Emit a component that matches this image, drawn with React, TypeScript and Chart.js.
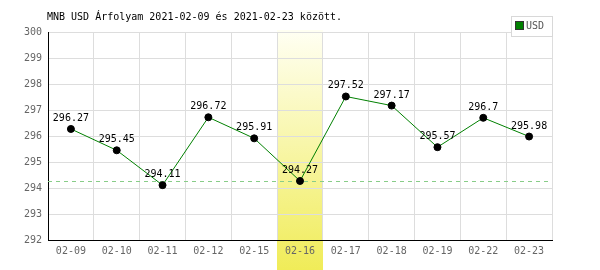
import React, { useEffect, useRef } from 'react';
import { Chart, registerables } from 'chart.js';

Chart.register(...registerables);

const categories = ['02-09', '02-10', '02-11', '02-12', '02-15', '02-16', '02-17', '02-18', '02-19', '02-22', '02-23'];
const usdValues = [296.27, 295.45, 294.11, 296.72, 295.91, 294.27, 297.52, 297.17, 295.57, 296.7, 295.98];
const referenceValue = 294.27;
const highlightIndex = 5;
const yMin = 292;
const yMax = 300;
const titleText = 'MNB USD Árfolyam 2021-02-09 és 2021-02-23 között.';
const seriesName = 'USD';

const MONO = '"DejaVu Sans Mono", "Liberation Mono", monospace';

const highlightPlugin = {
  id: 'highlightBand',
  beforeDraw(chart: any) {
    const { ctx, chartArea } = chart;
    const xs = chart.scales.x;
    const cx = xs.getPixelForValue(highlightIndex);
    const half = (xs.getPixelForValue(1) - xs.getPixelForValue(0)) / 2;
    const g = ctx.createLinearGradient(0, chartArea.top, 0, chart.height);
    g.addColorStop(0, '#fffff2');
    g.addColorStop(1, '#f0ec58');
    ctx.save();
    ctx.fillStyle = g;
    ctx.fillRect(Math.round(cx - half), chartArea.top - 2, Math.round(2 * half), chart.height - chartArea.top + 2);
    ctx.restore();
  },
};

const refLinePlugin = {
  id: 'refLine',
  beforeDatasetsDraw(chart: any) {
    const { ctx, chartArea } = chart;
    const y = Math.round(chart.scales.y.getPixelForValue(referenceValue)) + 0.5;
    ctx.save();
    ctx.strokeStyle = '#88cc88';
    ctx.lineWidth = 1;
    ctx.setLineDash([4, 4]);
    ctx.beginPath();
    ctx.moveTo(chartArea.left, y);
    ctx.lineTo(chartArea.right, y);
    ctx.stroke();
    ctx.restore();
  },
};

const labelPlugin = {
  id: 'valueLabels',
  afterDatasetsDraw(chart: any) {
    const { ctx } = chart;
    const meta = chart.getDatasetMeta(0);
    ctx.save();
    ctx.font = '10px ' + MONO;
    ctx.fillStyle = '#000';
    ctx.textAlign = 'center';
    ctx.textBaseline = 'alphabetic';
    meta.data.forEach((pt: any, i: number) => {
      ctx.fillText(String(usdValues[i]), pt.x, pt.y - 8);
    });
    ctx.restore();
  },
};

const titleLegendPlugin = {
  id: 'titleLegend',
  afterDraw(chart: any) {
    const { ctx } = chart;
    ctx.save();
    ctx.font = '10px ' + MONO;
    ctx.fillStyle = '#000';
    ctx.textAlign = 'left';
    ctx.textBaseline = 'middle';
    ctx.fillText(titleText, 47, 17);
    // legend box
    ctx.fillStyle = '#fff';
    ctx.fillRect(511, 16, 41, 20);
    ctx.strokeStyle = '#d8d8d8';
    ctx.lineWidth = 1;
    ctx.strokeRect(511.5, 16.5, 41, 20);
    ctx.fillStyle = '#008000';
    ctx.fillRect(516, 22, 7, 7);
    ctx.strokeStyle = '#333';
    ctx.strokeRect(515.5, 21.5, 8, 8);
    ctx.fillStyle = '#555';
    ctx.font = '10px ' + MONO;
    ctx.fillText(seriesName, 526, 26);
    ctx.restore();
  },
};

export default function App() {
  const ref = useRef<HTMLCanvasElement | null>(null);
  useEffect(() => {
    if (!ref.current) return;
    const chart = new Chart(ref.current, {
      type: 'line',
      data: {
        labels: categories,
        datasets: [
          {
            label: seriesName,
            data: usdValues,
            borderColor: '#008000',
            borderWidth: 1,
            pointBackgroundColor: '#000',
            pointBorderColor: '#000',
            pointRadius: 3.5,
            tension: 0,
            fill: false,
          },
        ],
      },
      options: {
        responsive: false,
        animation: false,
        layout: { padding: { top: 32, left: 0, right: 48, bottom: 0 } },
        plugins: { legend: { display: false }, title: { display: false }, tooltip: { enabled: false } },
        scales: {
          x: {
            type: 'category',
            offset: true,
            afterFit: (s: any) => { s.height = 30; },
            grid: { offset: true, color: '#dddddd', drawTicks: false, lineWidth: 1 },
            border: { color: '#000', width: 1 },
            ticks: { color: '#666', font: { family: MONO, size: 10 }, padding: 5, autoSkip: false, maxRotation: 0 },
          },
          y: {
            min: yMin,
            max: yMax,
            afterFit: (s: any) => { s.width = 48; },
            grid: { color: '#dddddd', drawTicks: false, lineWidth: 1 },
            border: { color: '#000', width: 1 },
            ticks: { stepSize: 1, color: '#666', font: { family: MONO, size: 10 }, padding: 6 },
          },
        },
      },
      plugins: [highlightPlugin, refLinePlugin, labelPlugin, titleLegendPlugin],
    });
    return () => chart.destroy();
  }, []);
  return (
    <div style={{ position: 'absolute', left: 0, top: 0, width: 600, height: 270, background: '#fff' }}>
      <canvas ref={ref} width={600} height={270} style={{ display: 'block', width: 600, height: 270 }} />
    </div>
  );
}
